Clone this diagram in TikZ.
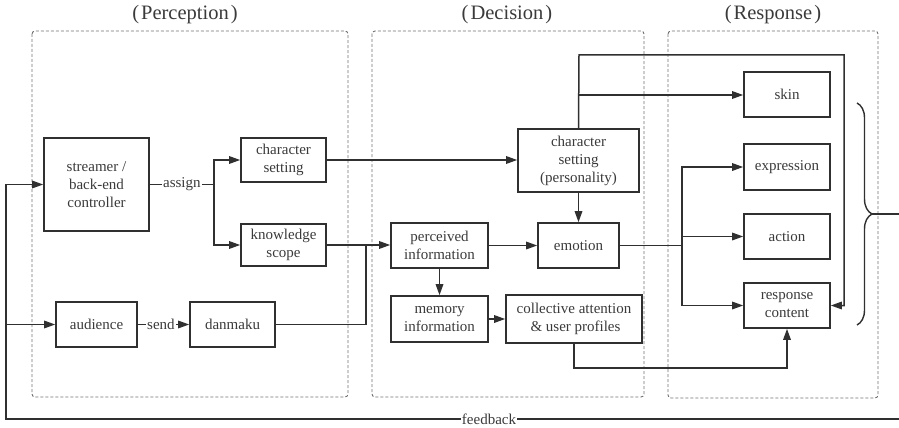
\documentclass[tikz,border=0pt]{standalone}
\usepackage{fontspec}
\setmainfont{Liberation Serif}
\usetikzlibrary{arrows.meta,decorations.pathreplacing}
\definecolor{linec}{HTML}{303030}
\definecolor{textc}{HTML}{3A3A3A}
\definecolor{dashc}{HTML}{707070}
\tikzset{
  box/.style={draw=linec, line width=1.6pt, align=center, inner sep=0pt, text=textc,
    font=\fontsize{15}{18}\selectfont},
  conn/.style={draw=linec, line width=1.5pt},
  arr/.style={conn, -{Triangle[length=11pt,width=7.5pt]}},
  lbl/.style={fill=white, inner sep=1pt, text=textc, font=\fontsize{15}{18}\selectfont},
  dbox/.style={draw=dashc, line width=0.9pt, dash pattern=on 3pt off 2pt, rounded corners=3pt},
  ttl/.style={text=textc, font=\fontsize{20.5}{24}\selectfont}
}
\begin{document}
\begin{tikzpicture}[x=1pt,y=-1pt]
\useasboundingbox (0,0) rectangle (899,428);
% stage frames
\draw[dbox] (32,31) rectangle (348,397);
\draw[dbox] (372,31) rectangle (644,397);
\draw[dbox] (668,31) rectangle (878,398);
\node[ttl] (tp) at (185,15) {(\kern2pt Perception\kern2pt)};
\node[ttl] (td) at (507,15) {(\kern2pt Decision\kern2pt)};
\node[ttl] (tr) at (773,15) {(\kern2pt Response\kern2pt)};
% perception
\node[box, minimum width=105pt, minimum height=93pt] (streamer) at (96.5,184.5) {streamer /\\back-end\\controller};
\node[box, minimum width=85pt, minimum height=44pt] (charL) at (283.5,160) {character\\setting};
\node[box, minimum width=85pt, minimum height=42pt] (know) at (283.5,245) {knowledge\\scope};
\node[box, minimum width=81pt, minimum height=45pt] (aud) at (96.5,324.5) {audience};
\node[box, minimum width=85pt, minimum height=45pt] (dan) at (232.5,324.5) {danmaku};
% decision
\node[box, minimum width=121pt, minimum height=63pt] (pers) at (578.5,160.5) {character\\setting\\(personality)};
\node[box, minimum width=97pt, minimum height=45pt] (perc) at (439.5,245.5) {perceived\\information};
\node[box, minimum width=81pt, minimum height=45pt] (emo) at (578.5,245.5) {emotion};
\node[box, minimum width=97pt, minimum height=46pt] (mem) at (439.5,319) {memory\\information};
\node[box, minimum width=136pt, minimum height=48pt] (coll) at (574,319) {collective attention\\\kern3pt\& user profiles};
% response
\node[box, minimum width=86pt, minimum height=45pt] (skin) at (787,94.5) {skin};
\node[box, minimum width=86pt, minimum height=46pt] (expr) at (787,167) {expression};
\node[box, minimum width=86pt, minimum height=45pt] (act) at (787,236.5) {action};
\node[box, minimum width=86pt, minimum height=45pt] (resp) at (787,305.5) {response\\content};
% coordinates
\coordinate (sp) at (214,184.5);
\coordinate (dj) at (366,324.5);
\coordinate (pt) at (579,55);
\coordinate (pr) at (844,55);
\coordinate (pb) at (579,95);
\coordinate (ej) at (682,245.5);
\coordinate (cb) at (574,368);
\coordinate (bt) at (872,214);
\coordinate (re) at (902,214);
\coordinate (rb) at (902,419);
\coordinate (lb) at (6,419);
\coordinate (la) at (6,324.5);
% perception connectors
\draw[conn] (streamer.east) -- node[lbl] (asg) {assign} (sp);
\draw[arr] (sp) |- (charL.west);
\draw[arr] (sp) |- (know.west);
\draw[arr] (aud.east) -- node[lbl, pos=0.45] (snd) {send} (dan.west);
% to decision
\draw[arr] (charL.east) -- (charL.east -| pers.west);
\draw[arr] (know.east) -- (know.east -| perc.west);
\draw[conn] (dan.east) -- (dj) -- (dj |- know.east);
\draw[arr] (pers.south) -- (emo.north);
\draw[arr] (perc.east) -- (emo.west);
\draw[arr] (perc.south) -- (mem.north);
\draw[arr] (mem.east) -- (mem.east -| coll.west);
% to response
\draw[arr] (pers.north) -- (pt) -- (pr) |- (resp.east);
\draw[arr] (pb) -- (pb -| skin.west);
\draw[conn] (emo.east) -- (ej);
\draw[arr] (ej) |- (expr.west);
\draw[arr] (ej) |- (resp.west);
\draw[arr] (ej |- act.west) -- (act.west);
\draw[arr] (coll.south) -- (cb) -| (resp.south);
% brace and feedback
\draw[conn, line width=1.4pt, decorate, decoration={brace, amplitude=15pt}] (857,103) -- (857,325);
\draw[conn] (bt) -- (re) -- (rb) -- (lb) -- (la);
\draw[arr] (la) |- (streamer.west);
\draw[arr] (la) -- (aud.west);
\node[lbl] (fb) at (489,419) {feedback};
\end{tikzpicture}
\end{document}
